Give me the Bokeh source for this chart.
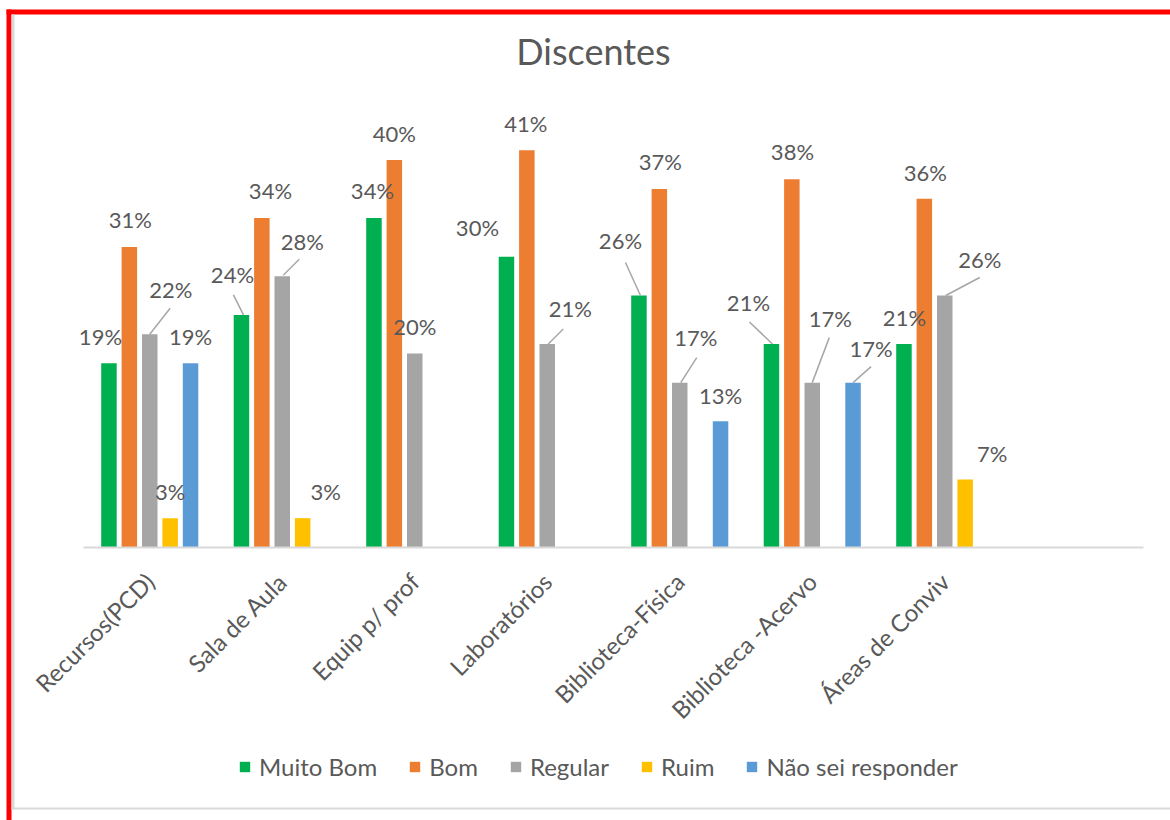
from bokeh.plotting import figure
from bokeh.models import (Range1d, ColumnDataSource, Legend, LegendItem, BoxAnnotation,
                          Label, LinearAxis, FixedTicker)
from bokeh.core.properties import value
from bokeh.embed import file_html
from bokeh.resources import INLINE
import math

# ---------------- data ----------------
categories = ["Recursos(PCD)", "Sala de Aula", "Equip p/ prof", "Laboratórios",
              "Biblioteca-Física", "Biblioteca -Acervo", "Áreas de Conviv"]
series_names = ["Muito Bom", "Bom", "Regular", "Ruim", "Não sei responder"]
muito_bom = [19, 24, 34, 30, 26, 21, 21]
bom = [31, 34, 40, 41, 37, 38, 36]
regular = [22, 28, 20, 21, 17, 17, 26]
ruim = [3, 3, None, None, None, None, 7]
nao_sei = [19, None, None, None, 13, 17, None]
series_values = [muito_bom, bom, regular, ruim, nao_sei]
title_text = "Discentes"

# ---------------- style / layout ----------------
colors = ["#00B050", "#ED7D31", "#A5A5A5", "#FFC000", "#5B9BD5"]
TXT = "#595959"
FONT = "Lato"
W, H = 1170, 820
N_SLOTS = 8            # axis has one empty slot after the last category
AX_LEFT = 83           # px where the category axis starts
PX_CAT = 132.5         # px per category slot
BASE = 546.7           # px of the zero line
PX_PCT = 9.68          # px per percentage point
series_offset_px = [-40.8, -20.4, 0, 20.4, 40.8]
bar_w_px = 15.5


def px2x(px):
    return (px - AX_LEFT) / PX_CAT


def py2y(py):
    return (BASE - py) / PX_PCT


# label offsets (px, relative to bar top centre; y negative = up)
label_off = [
    [(-8.5, -27), (-9, -40), (-1.5, -28), (-29, -29), (-18.5, -55), (-23, -41), (0.5, -26)],
    [(1, -28), (8.6, -28), (0, -27), (-1, -27), (1, -28), (0.6, -28), (1, -26)],
    [(21, -44.5), (20, -35), (0, -27), (23, -35), (16, -45), (18, -64), (35, -36)],
    [(0, -27), (23, -27), None, None, None, None, (27, -26)],
    [(0, -27), None, None, None, (0, -26), (18, -34), None],
]
# leader lines (start dx, dy, end dx, dy) in px
leaders = [
    [None, (2, 0, -8, -20), None, None, (1.5, 0, -13.5, -33), (1, 0, -22, -22), None],
    [None] * 7,
    [(0, 0, 20.4, -26), (1, -1, 17, -17), None, (1, 0, 16, -15), (1, 0, 17, -25), (0, 0, 17, -45), (1, 0, 35, -18)],
    [None] * 7,
    [None, None, None, None, None, (0, 0, 18, -16), None],
]

p = figure(x_range=Range1d(px2x(0), px2x(W)), y_range=Range1d(py2y(H), py2y(0)),
           width=W, height=H, output_backend="svg", toolbar_location=None,
           min_border=0, min_border_left=0, min_border_right=0, min_border_top=0,
           min_border_bottom=0, x_axis_location=None, y_axis_location=None,
           outline_line_color=None, background_fill_color="white", border_fill_color="white")
p.xgrid.visible = False
p.ygrid.visible = False

legend_items = []
lab_x, lab_y, lab_t = [], [], []
lx0, ly0, lx1, ly1 = [], [], [], []
for s, (name, vals) in enumerate(zip(series_names, series_values)):
    xs, ys = [], []
    for i, v in enumerate(vals):
        if v is None:
            continue
        xc = i + 0.5 + series_offset_px[s] / PX_CAT
        xs.append(xc)
        ys.append(v)
        dx, dy = label_off[s][i]
        lab_x.append(xc + dx / PX_CAT)
        lab_y.append(v - dy / PX_PCT)
        lab_t.append(f"{v}%")
        ld = leaders[s][i]
        if ld:
            lx0.append(xc + ld[0] / PX_CAT)
            ly0.append(v - ld[1] / PX_PCT)
            lx1.append(xc + ld[2] / PX_CAT)
            ly1.append(v - ld[3] / PX_PCT)
    src = ColumnDataSource(dict(x=xs, top=ys))
    r = p.vbar(x="x", top="top", bottom=0, width=bar_w_px / PX_CAT, source=src,
               fill_color=colors[s], line_color=None)
    legend_items.append(LegendItem(label=name, renderers=[r]))

p.segment(x0=lx0, y0=ly0, x1=lx1, y1=ly1, line_color="#A6A6A6", line_width=1.5)
p.text(x=lab_x, y=lab_y, text=lab_t, text_align="center", text_baseline="middle",
       text_font=value(FONT), text_font_size="22px", text_color=TXT)

# category axis drawn at y = 0
ticks = [i + 0.5 for i in range(len(categories))]
ax = LinearAxis(ticker=FixedTicker(ticks=ticks),
                major_label_overrides={t: c for t, c in zip(ticks, categories)},
                fixed_location=0, bounds=(0, N_SLOTS))
ax.axis_line_color = "#D9D9D9"
ax.axis_line_width = 2
ax.major_tick_line_color = None
ax.minor_tick_line_color = None
ax.major_label_orientation = math.pi / 4
ax.major_label_text_font = FONT
ax.major_label_text_font_size = "24px"
ax.major_label_text_color = TXT
ax.major_label_standoff = 24
p.add_layout(ax, "below")

# title
p.add_layout(Label(x=px2x(593), y=py2y(50), text=title_text, text_align="center",
                   text_baseline="middle", text_font=FONT, text_font_size="36px",
                   text_color=TXT))

legend = Legend(items=legend_items, orientation="horizontal", location=(238, 39),
                label_text_font=FONT, label_text_font_size="24px", label_text_color=TXT,
                glyph_width=13, glyph_height=13, label_standoff=8, spacing=31,
                padding=0, margin=0, border_line_color=None, background_fill_alpha=0)
p.add_layout(legend, "center")

# chart-area frame (red outer border, grey inner border)
for l, r_, t, b, c in [(6, 11, 9, H, "#FF0000"), (6, W, 9, 14, "#FF0000"),
                        (11, 14, 14, 809, "#D9D9D9"), (11, W, 807, 809, "#D9D9D9")]:
    p.add_layout(BoxAnnotation(left=px2x(l), right=px2x(r_), top=py2y(t), bottom=py2y(b),
                               fill_color=c, fill_alpha=1, line_color=None, level="overlay"))

open("out.html", "w").write(file_html(p, INLINE))
